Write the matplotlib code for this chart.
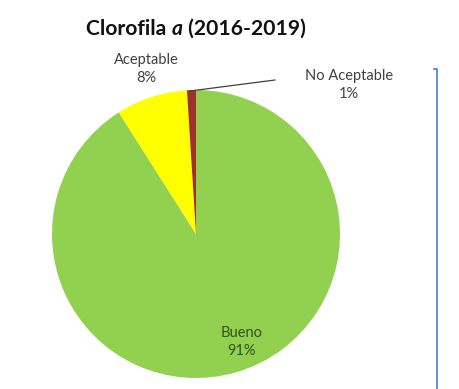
import matplotlib
matplotlib.use("Agg")
import matplotlib.pyplot as plt
from matplotlib.lines import Line2D

# Chlorophyll-a water quality classes, share of samples 2016-2019
categories = ["Bueno", "Aceptable", "No Aceptable"]
shares = [91, 8, 1]
colors = ["#92D050", "#FFFF00", "#A0302A"]

W, H = 459, 389
fig = plt.figure(figsize=(W / 100, H / 100), dpi=100)
fig.patch.set_facecolor("white")
ax = fig.add_axes([0, 0, 1, 1])

FONT = "Lato"

# pie: pixel coordinates measured from the top converted to data coords
cx, cy, r = 196, H - 234, 144
ax.pie(shares, colors=colors, startangle=90, counterclock=False,
       center=(cx, cy), radius=r, frame=True,
       wedgeprops=dict(linewidth=0))
ax.set_xlim(0, W)
ax.set_ylim(0, H)
ax.set_aspect("equal")
ax.axis("off")

lab_col = "#404040"
fs = 10.5


def label(x, y_top, name, share, color):
    ax.text(x, H - y_top, name, ha="center", va="center", fontsize=fs,
            family=FONT, color=color)
    ax.text(x, H - y_top - 18, f"{share}%", ha="center", va="center",
            fontsize=fs, family=FONT, color=color)


label(242, 333, categories[0], shares[0], "#34501c")
label(146, 60, categories[1], shares[1], lab_col)
label(349, 76, categories[2], shares[2], lab_col)
ax.add_line(Line2D([190, 275], [H - 91, H - 80], color="#404040", lw=0.9))

# title with italic "a"
fig.canvas.draw()
rend = fig.canvas.get_renderer()
parts = [("Clorofila ", "normal"), ("a", "italic"), (" (2016-2019)", "normal")]
tfs = 15.2
texts = []
for s, st in parts:
    t = ax.text(0, H - 35, s, ha="left", va="baseline", fontsize=tfs,
                family=FONT, fontweight="bold", style=st, color="#111111")
    texts.append(t)
widths = [t.get_window_extent(rend).width for t in texts]
total = sum(widths)
x = 196 - total / 2
for t, w in zip(texts, widths):
    t.set_x(x)
    x += w

# blue cell border at right
ax.add_line(Line2D([434, 437, 437], [H - 69, H - 69, 0], color="#4A7FD0", lw=1.2))

fig.savefig("out.png", dpi=100, facecolor="white")
